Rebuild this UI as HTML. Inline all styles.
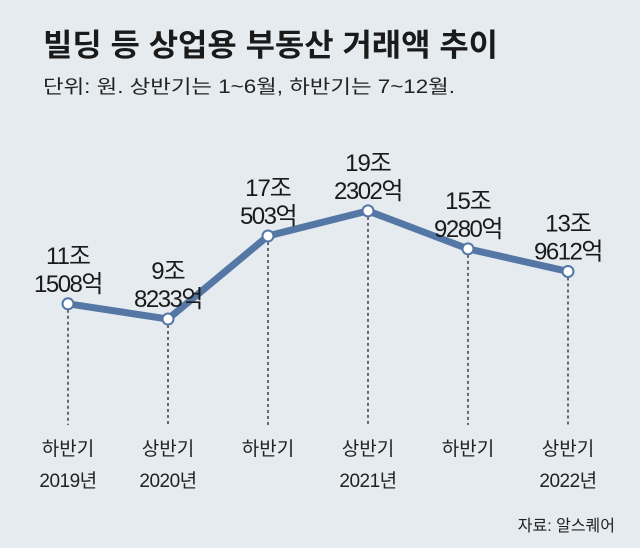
<!DOCTYPE html>
<html><head><meta charset="utf-8"><style>
body{margin:0;background:#e6ecef;}
svg{display:block;font-family:"Liberation Sans","Noto Sans CJK KR",sans-serif;}
</style></head><body>
<svg width="640" height="548" viewBox="0 0 640 548">
<rect x="0" y="0" width="640" height="548" fill="#e5ebef"/>
<text x="43" y="56" font-size="31" font-weight="bold" fill="#1a1a1a" textLength="455" lengthAdjust="spacingAndGlyphs">빌딩 등 상업용 부동산 거래액 추이</text>
<text x="43" y="93" font-size="19" fill="#222" textLength="412" lengthAdjust="spacingAndGlyphs">단위: 원. 상반기는 1~6월, 하반기는 7~12월.</text>
<text x="615" y="531" font-size="16" fill="#222" text-anchor="end">자료: 알스퀘어</text>
<g id="plot"></g>
</svg>
<script>
const halves = ["하반기","상반기","하반기","상반기","하반기","상반기"];
const years = ["2019년","2020년","","2021년","","2022년"];
const values = [111508, 98233, 170503, 192302, 159280, 139612];
const labelTop = ["11조","9조","17조","19조","15조","13조"];
const labelBottom = ["1508억","8233억","503억","2302억","9280억","9612억"];
const NS="http://www.w3.org/2000/svg";
const g=document.getElementById('plot');
function xPos(i){return 68+i*100;}
function yPos(v){return 265-(v-145240)*0.00115;}
function mk(t,a){const e=document.createElementNS(NS,t);for(const k in a)e.setAttribute(k,a[k]);g.appendChild(e);return e;}
values.forEach((v,i)=>{
  const l=mk('line',{x1:xPos(i),y1:yPos(v),x2:xPos(i),y2:425,stroke:'#222','stroke-width':1.3,'stroke-dasharray':'3,3'});
  
  
});
const pts=values.map((v,i)=>xPos(i)+','+yPos(v)).join(' ');
const pl=mk('polyline',{points:pts,fill:'none',stroke:'#5577a6','stroke-width':7,'stroke-linejoin':'round','stroke-linecap':'round'});


values.forEach((v,i)=>{
  const x=xPos(i),y=yPos(v);
  const c=mk('circle',{cx:x,cy:y,r:5.5,fill:'#fff',stroke:'#5577a6','stroke-width':2});
  
  
  const t1=mk('text',{x:x,y:y-40,'font-size':24,'text-anchor':'middle',fill:'#1a1a1a','letter-spacing':'-1'});
  t1.textContent=labelTop[i];
  
  
  const t2=mk('text',{x:x,y:y-12,'font-size':24,'text-anchor':'middle',fill:'#1a1a1a','letter-spacing':'-1.5'});
  t2.textContent=labelBottom[i];
  
  
  const h=mk('text',{x:x,y:455,'font-size':19,'text-anchor':'middle',fill:'#222'});
  h.textContent=halves[i];
  
  
  if(years[i]){
    const yr=mk('text',{x:x,y:487,'font-size':19,'text-anchor':'middle',fill:'#222','letter-spacing':'-0.5'});
    yr.textContent=years[i];
    
    
  }
});
</script>
</body></html>
